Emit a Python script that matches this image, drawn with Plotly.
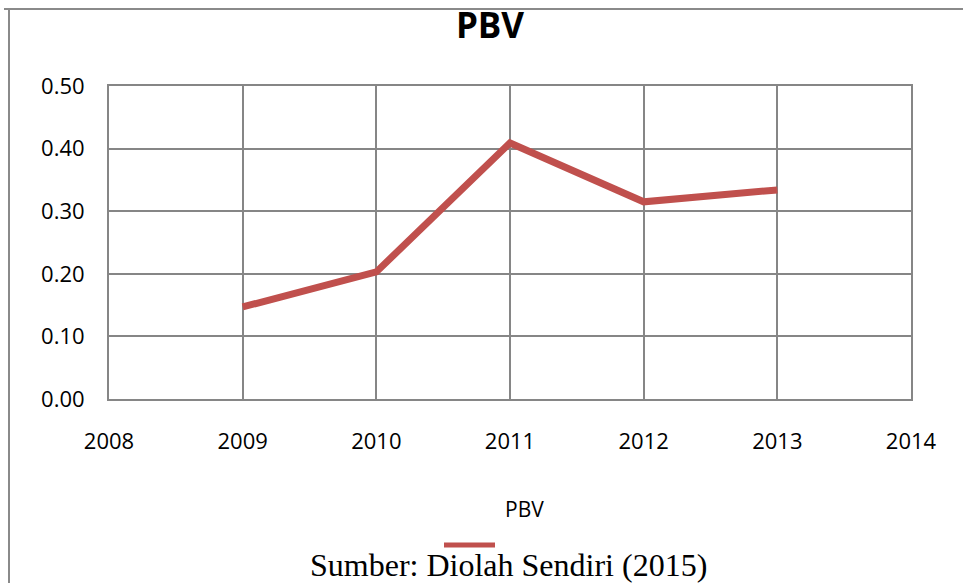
import plotly.graph_objects as go

years = [2009, 2010, 2011, 2012, 2013]
pbv = [0.147, 0.203, 0.409, 0.315, 0.334]
x_ticks = [2008, 2009, 2010, 2011, 2012, 2013, 2014]
y_ticks = [0.0, 0.1, 0.2, 0.3, 0.4, 0.5]
y_labels = ["0.00", "0.10", "0.20", "0.30", "0.40", "0.50"]

W, H = 963, 583
PL, PR, PT, PB = 109, 911, 86, 399  # plot area in pixels
L, T, R, B = PL, PT, W - PR, H - PB
pw, ph = W - L - R, H - T - B

def px(x):
    return (x - L) / pw

def py(y):
    return (H - B - y) / ph

fig = go.Figure()
fig.add_trace(go.Scatter(
    x=years, y=pbv, mode="lines", name="PBV",
    line=dict(color="#C0504D", width=7), showlegend=False,
))

grid = "#868686"
fig.update_xaxes(
    range=[2008, 2014], tickvals=x_ticks, ticktext=[str(v) for v in x_ticks],
    showgrid=True, gridcolor=grid, gridwidth=2,
    showline=True, linecolor=grid, linewidth=2, mirror=True,
    zeroline=False, ticks="", ticklabelstandoff=22,
    tickfont=dict(family="Open Sans", size=22, color="#000000"),
)
fig.update_yaxes(
    range=[0, 0.5], tickvals=y_ticks, ticktext=y_labels,
    showgrid=True, gridcolor=grid, gridwidth=2,
    showline=True, linecolor=grid, linewidth=2, mirror=True,
    zeroline=False, ticks="", ticklabelstandoff=18,
    tickfont=dict(family="Open Sans", size=22, color="#000000"),
)

shapes = [
    # chart border (top and left)
    dict(type="line", xref="paper", yref="paper", x0=px(4), x1=px(963), y0=py(9), y1=py(9),
         line=dict(color="#8A8A8A", width=2)),
    dict(type="line", xref="paper", yref="paper", x0=px(9), x1=px(9), y0=py(9), y1=py(583),
         line=dict(color="#8A8A8A", width=2)),
    # legend symbol
    dict(type="line", xref="paper", yref="paper", x0=px(444), x1=px(495), y0=py(545), y1=py(545),
         line=dict(color="#C0504D", width=5)),
]

annotations = [
    dict(text="PBV", xref="paper", yref="paper", x=px(524), y=py(509),
         xanchor="center", yanchor="middle", showarrow=False,
         font=dict(family="Open Sans", size=21, color="#000000")),
    dict(text="Sumber: Diolah Sendiri (2015)", xref="paper", yref="paper",
         x=px(508), y=py(565), xanchor="center", yanchor="middle", showarrow=False,
         font=dict(family="Liberation Serif", size=32, color="#000000")),
]

fig.update_layout(
    width=W, height=H,
    margin=dict(l=L, r=R, t=T, b=B),
    paper_bgcolor="white", plot_bgcolor="white",
    title=dict(text="<b>PBV</b>", x=490 / W, xanchor="center",
               y=1 - 26 / H, yanchor="middle",
               font=dict(family="Open Sans", size=35, color="#000000")),
    shapes=shapes, annotations=annotations,
)

fig.write_html("out.html", config={"displayModeBar": False},
               post_script="document.body.style.margin='0';")
